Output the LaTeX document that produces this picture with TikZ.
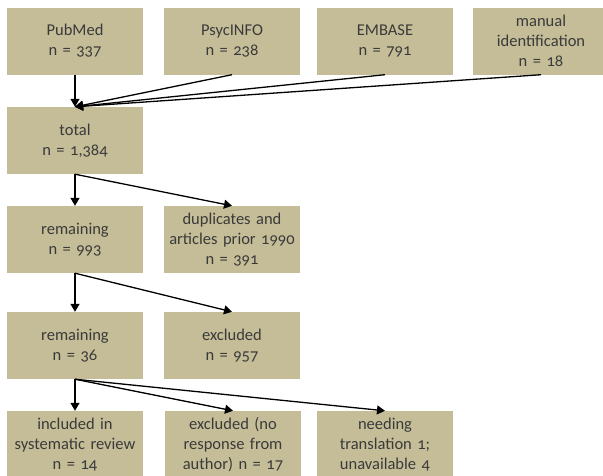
\documentclass[tikz,border=0pt]{standalone}
\usepackage{fontspec}
\setmainfont[Numbers=OldStyle]{Carlito}
\usetikzlibrary{arrows.meta}
\definecolor{boxfill}{HTML}{C4BD97}
\definecolor{txt}{HTML}{3A3A3A}
\begin{document}
\begin{tikzpicture}[x=1pt,y=-1pt,
 box/.style={fill=boxfill, minimum width=136pt, minimum height=67pt, align=center, text=txt, font=\fontsize{16.5}{19.8}\selectfont, inner sep=0pt, text width=136pt},
 arr/.style={-{Triangle[length=8pt,width=9pt]}, line width=1.3pt}]
\useasboundingbox (0,0) rectangle (603,475);
\node[box] (pub) at (75,41) {PubMed\\n = 337};
\node[box] (psy) at (232,41) {PsycINFO\\n = 238};
\node[box] (emb) at (385,41) {EMBASE\\n = 791};
\node[box] (man) at (541,41) {manual\\identification\\n = 18};
\node[box] (tot) at (75,140.5) {total\\n = 1,384};
\node[box] (rem1) at (75,239.5) {remaining\\n = 993};
\node[box] (dup) at (232,239.5) {duplicates and\\articles prior 1990\\n = 391};
\node[box] (rem2) at (75,345.5) {remaining\\n = 36};
\node[box] (exc) at (232,345.5) {excluded\\n = 957};
\node[box] (inc) at (75,444.5) {included in\\systematic review\\n = 14};
\node[box] (nor) at (233,444.5) {excluded (no\\response from\\author) n = 17};
\node[box] (nee) at (385,444.5) {needing\\translation 1;\\unavailable 4};
\draw[arr] (pub.south) -- (tot.north);
\draw[arr] (psy.south) -- (tot.north);
\draw[arr] (emb.south) -- (tot.north);
\draw[arr] (man.south) -- (tot.north);
\draw[arr] (tot.south) -- (rem1.north);
\draw[arr] (tot.south) -- (dup.north);
\draw[arr] (rem1.south) -- (rem2.north);
\draw[arr] (rem1.south) -- (exc.north);
\draw[arr] (rem2.south) -- (inc.north);
\draw[arr] (rem2.south) -- (nor.north);
\draw[arr] (rem2.south) -- (nee.north);
\end{tikzpicture}
\end{document}
